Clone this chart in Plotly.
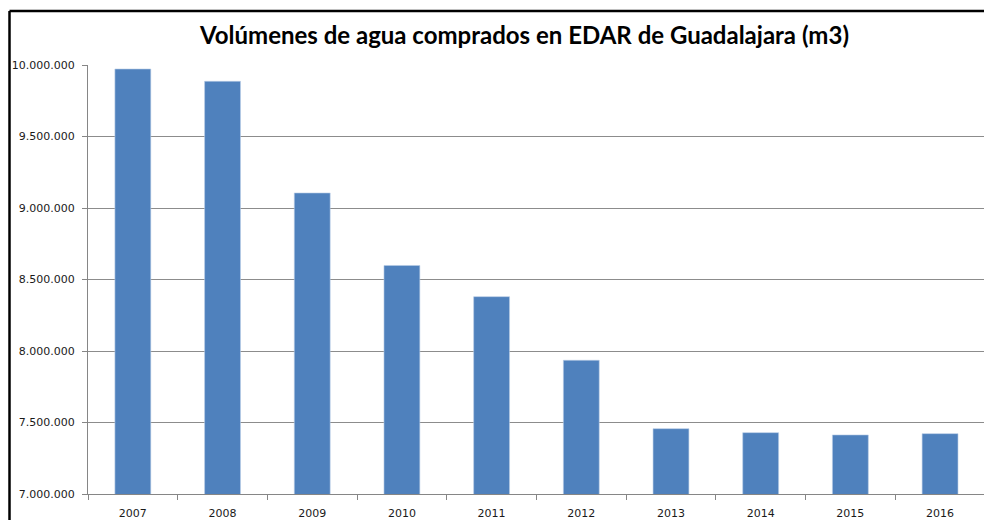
import plotly.graph_objects as go

years = ["2007", "2008", "2009", "2010", "2011", "2012", "2013", "2014", "2015", "2016"]
volumes = [9972000, 9886000, 9105000, 8598000, 8380000, 7935000, 7457000, 7429000, 7413000, 7422000]
y_tick_values = [7000000, 7500000, 8000000, 8500000, 9000000, 9500000, 10000000]
y_tick_labels = ["7.000.000", "7.500.000", "8.000.000", "8.500.000", "9.000.000", "9.500.000", "10.000.000"]
title_text = "Volúmenes de agua comprados en EDAR de Guadalajara (m3)"

W, H = 984, 520
ml, mt, mb = 88, 65, 26
plot_w = W - ml
plot_h = H - mt - mb

def px_x(p):
    return (p - ml) / plot_w

def px_y(p):
    return (H - mb - p) / plot_h

fig = go.Figure(go.Bar(
    x=years, y=volumes,
    marker=dict(color="#4F81BD", line=dict(color="#B9CDE5", width=0.6)),
    width=0.4,
))

fig.update_layout(
    width=W, height=H,
    margin=dict(l=ml, r=0, t=mt, b=mb, autoexpand=False),
    paper_bgcolor="white", plot_bgcolor="white",
    showlegend=False,
    font=dict(family="DejaVu Sans", size=11, color="#1a1a1a"),
    annotations=[dict(
        text="<b>" + title_text + "</b>",
        xref="paper", yref="paper",
        x=px_x(524), y=px_y(35), xanchor="center", yanchor="middle",
        showarrow=False,
        font=dict(family="Lato", size=24, color="black"),
    )],
    shapes=[
        dict(type="line", xref="paper", yref="paper",
             x0=px_x(9.5), x1=px_x(9.5), y0=px_y(540), y1=px_y(11),
             line=dict(color="black", width=2.5)),
        dict(type="line", xref="paper", yref="paper",
             x0=px_x(9.5), x1=px_x(1000), y0=px_y(11), y1=px_y(11),
             line=dict(color="black", width=2.5)),
    ],
)

fig.update_xaxes(
    type="category",
    range=[-0.5, 9.49],
    showline=True, linecolor="#868686", linewidth=1,
    ticks="outside", tickson="boundaries", ticklen=5, tickcolor="#868686",
    ticklabelstandoff=9,
    showgrid=False, automargin=False,
    tickfont=dict(family="DejaVu Sans", size=11, color="#1a1a1a"),
)
fig.update_yaxes(
    range=[7000000, 10000000],
    tickvals=y_tick_values, ticktext=y_tick_labels,
    showline=True, linecolor="#868686", linewidth=1,
    ticks="outside", ticklen=5, tickcolor="#868686",
    ticklabelstandoff=5,
    showgrid=True, gridcolor="#8c8c8c", gridwidth=1,
    zeroline=False, automargin=False,
    tickfont=dict(family="DejaVu Sans", size=11, color="#1a1a1a"),
)

fig.write_html(
    "out.html",
    config={"displayModeBar": False},
    post_script="document.body.style.margin='0';document.body.style.overflow='hidden';",
)
